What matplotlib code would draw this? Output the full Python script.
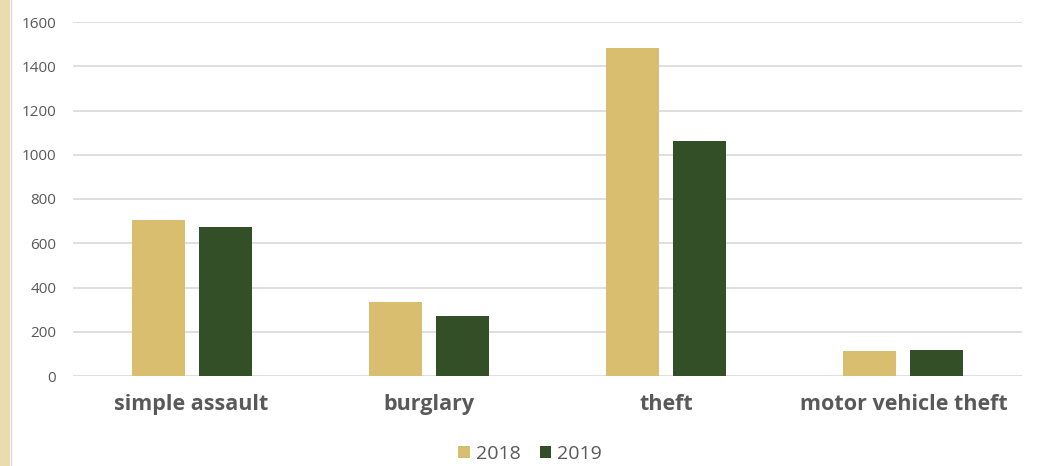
import matplotlib.pyplot as plt
import matplotlib.patches as mpatches
import numpy as np

categories = ["simple assault", "burglary", "theft", "motor vehicle theft"]
years = ["2018", "2019"]
values_2018 = [703, 333, 1484, 113]
values_2019 = [673, 273, 1062, 116]

colors = ["#D9BE6F", "#334F27"]
text_color = "#595959"

plt.rcParams['font.family'] = ['Open Sans', 'DejaVu Sans']

fig = plt.figure(figsize=(10.38, 4.66), dpi=100)
fig.patch.set_facecolor("white")

# beige strip on the left edge
fig.patches.append(mpatches.Rectangle((0, 0), 10 / 1038, 1, transform=fig.transFigure,
                                      facecolor="#EBDCAE", edgecolor="none"))
fig.lines.append(plt.Line2D([10.5 / 1038, 10.5 / 1038], [0, 1], transform=fig.transFigure,
                            color="#D9D9D9", linewidth=1))

ax = fig.add_axes([73 / 1038, 90 / 466, 949 / 1038, 354 / 466])

x = np.arange(len(categories))
width = 0.224
offset = 0.1414
ax.bar(x - offset, values_2018, width, color=colors[0], label=years[0], zorder=3)
ax.bar(x + offset, values_2019, width, color=colors[1], label=years[1], zorder=3)

ax.set_xlim(-0.5, len(categories) - 0.5)
ax.set_ylim(0, 1600)
ax.set_yticks(range(0, 1601, 200))
ax.yaxis.grid(True, color="#D9D9D9", linewidth=1.2, zorder=0)
ax.set_axisbelow(True)

for s in ax.spines.values():
    s.set_visible(False)

ax.tick_params(axis="y", length=0, pad=12, labelsize=11, labelcolor=text_color)
ax.tick_params(axis="x", length=0, pad=13, labelsize=15.5, labelcolor=text_color)
ax.set_xticks(x)
ax.set_xticklabels(categories, fontweight="bold")

fig.legend(loc="center", bbox_to_anchor=(530 / 1038, 12 / 466), ncol=2, frameon=False,
           fontsize=14, labelcolor=text_color, handlelength=0.6, handleheight=0.6,
           handletextpad=0.3, columnspacing=1.0, borderpad=0)

fig.savefig("out.png", dpi=100)
